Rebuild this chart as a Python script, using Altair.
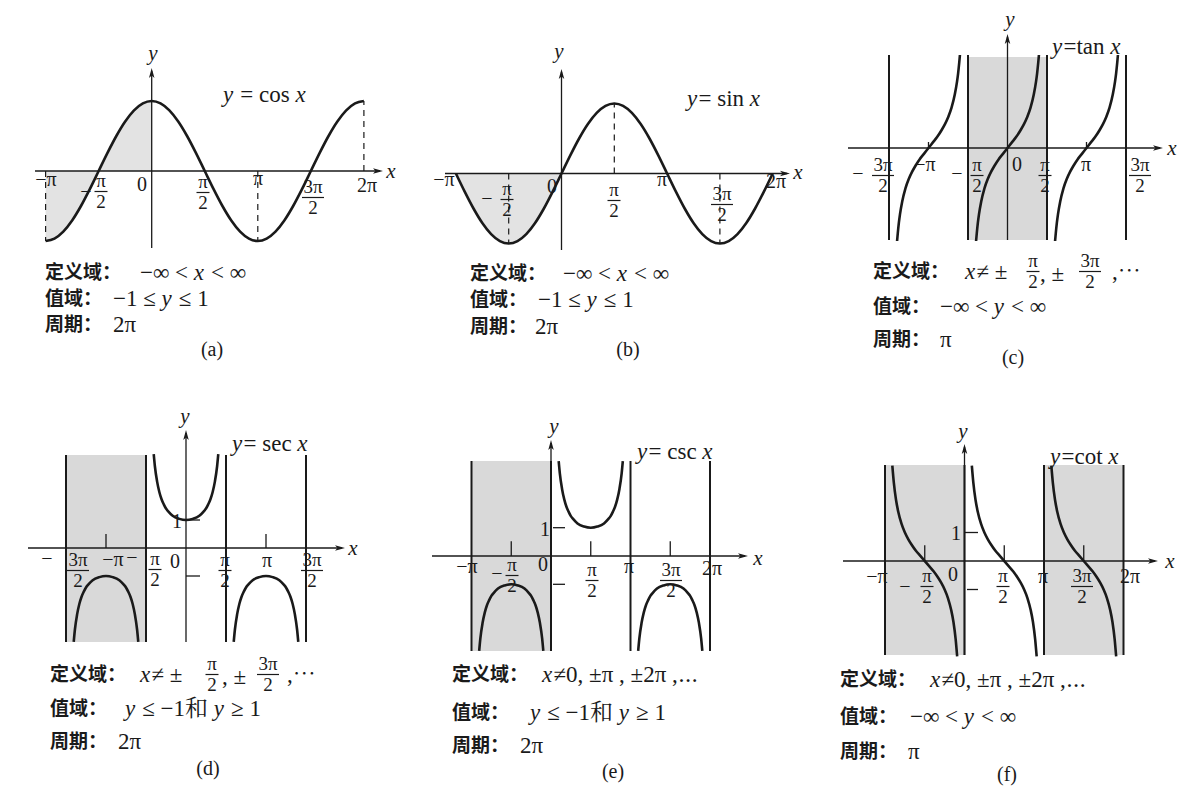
import altair as alt
import pandas as pd

# ---------------- values ----------------
# x positions in degrees (180 = pi), y in function units
WAVE_DEG = [-180, -165, -150, -135, -120, -105, -90, -75, -60, -45, -30, -15, 0,
            15, 30, 45, 60, 75, 90, 105, 120, 135, 150, 165, 180,
            195, 210, 225, 240, 255, 270, 285, 300, 315, 330, 345, 360]
COS_Y = [-1, -0.966, -0.866, -0.707, -0.5, -0.259, 0, 0.259, 0.5, 0.707, 0.866, 0.966, 1,
         0.966, 0.866, 0.707, 0.5, 0.259, 0, -0.259, -0.5, -0.707, -0.866, -0.966, -1,
         -0.966, -0.866, -0.707, -0.5, -0.259, 0, 0.259, 0.5, 0.707, 0.866, 0.966, 1]
SIN_Y = [0, -0.259, -0.5, -0.707, -0.866, -0.966, -1, -0.966, -0.866, -0.707, -0.5, -0.259, 0,
         0.259, 0.5, 0.707, 0.866, 0.966, 1, 0.966, 0.866, 0.707, 0.5, 0.259, 0,
         -0.259, -0.5, -0.707, -0.866, -0.966, -1, -0.966, -0.866, -0.707, -0.5, -0.259, 0]

# one branch of tan x (offset from branch centre, degrees)
TAN_OFF = [-71.6, -70, -67.5, -65, -60, -52.5, -45, -37.5, -30, -20, -10, 0,
           10, 20, 30, 37.5, 45, 52.5, 60, 65, 67.5, 70, 71.6]
TAN_Y = [-3.0, -2.75, -2.41, -2.14, -1.73, -1.30, -1.0, -0.77, -0.58, -0.36, -0.18, 0,
         0.18, 0.36, 0.58, 0.77, 1.0, 1.30, 1.73, 2.14, 2.41, 2.75, 3.0]
TAN_CENTERS = [-180, 0, 180]

# one U-shaped branch of sec / csc
SEC_OFF = [-72.6, -70, -65, -60, -55, -50, -45, -40, -30, -15, 0,
           15, 30, 40, 45, 50, 55, 60, 65, 70, 72.6]
SEC_UP = [3.35, 2.92, 2.37, 2.0, 1.74, 1.56, 1.41, 1.31, 1.15, 1.04, 1,
          1.04, 1.15, 1.31, 1.41, 1.56, 1.74, 2.0, 2.37, 2.92, 3.35]
SEC_DOWN = [-3.35, -2.92, -2.37, -2.0, -1.74, -1.56, -1.41, -1.31, -1.15, -1.04, -1,
            -1.04, -1.15, -1.31, -1.41, -1.56, -1.74, -2.0, -2.37, -2.92, -3.35]
SEC_UP_CENTERS, SEC_DOWN_CENTERS = [0], [-180, 180]
CSC_UP_CENTERS, CSC_DOWN_CENTERS = [90], [-90, 270]

# one branch of cot x
COT_OFF = [-73.4, -70, -65, -60, -52.5, -45, -37.5, -30, -20, -10, 0,
           10, 20, 30, 37.5, 45, 52.5, 60, 65, 70, 73.4]
COT_Y = [3.35, 2.75, 2.14, 1.73, 1.30, 1.0, 0.77, 0.58, 0.36, 0.18, 0,
         -0.18, -0.36, -0.58, -0.77, -1.0, -1.30, -1.73, -2.14, -2.75, -3.35]
COT_CENTERS = [-90, 90, 270]

# ---------------- styling ----------------
SERIF = "Liberation Serif, 'Noto Serif CJK SC', 'Noto Sans CJK SC', serif"
CJK = "'Noto Sans CJK SC', sans-serif"
INK = "#1a1a1a"
SHADE = "#d9d9d9"
SHADE_LIGHT = "#e3e3e3"
ARROW_R = "M-1,-0.55L1,0L-1,0.55L-0.5,0Z"
ARROW_U = "M-0.55,1L0,-1L0.55,1L0,0.5Z"
MSIZE = 23

STYLES = {
    "cjk": dict(font=CJK, fontSize=19, fontWeight="bold", align="left"),
    "m": dict(font=SERIF, fontSize=MSIZE, align="left"),
    "mi": dict(font=SERIF, fontSize=MSIZE, fontStyle="italic", align="left"),
    "t": dict(font=SERIF, fontSize=20, align="center"),
    "f": dict(font=SERIF, fontSize=19, align="center"),
    "ti": dict(font=SERIF, fontSize=21, fontStyle="italic", align="center"),
    "lab": dict(font=SERIF, fontSize=20, align="center"),
}
TW = {'−': .564, '∞': .713, '<': .564, '>': .564, '≤': .549, '≥': .549, '≠': .549,
      '±': .564, 'π': .55, ',': .25, '⋯': 1.0, '和': 1.0, ' ': .25, '=': .564,
      'a': .444, 'c': .444, 'e': .444, 'i': .278, 'n': .5, 'o': .5, 's': .389,
      't': .278, 'x': .5, 'y': .5}


def twidth(s, size=MSIZE):
    return sum(TW.get(ch, .5) for ch in s) * size


class Panel:
    def __init__(self, left, top, right, bottom, ox, oy, ppi, ppu):
        self.left, self.top, self.right, self.bottom = left, top, right, bottom
        self.ox, self.oy, self.ppi, self.ppu = ox, oy, ppi, ppu
        self.segs, self.dashes, self.arrows = [], [], []
        self.rects, self.texts, self.curves, self.areas = [], [], [], []

    def X(self, px):
        return (px - self.ox) / self.ppi * 180

    def Y(self, py):
        return (self.oy - py) / self.ppu

    def seg(self, x1, y1, x2, y2, w=1.3):
        self.segs.append(dict(x=x1, x2=x2, y=y1, y2=y2, w=w))

    def axes(self, xl, xt, yb, yt):
        self.seg(self.X(xl), 0, self.X(xt - 3), 0, 1.3)
        self.seg(0, self.Y(yb), 0, self.Y(yt + 3), 1.3)
        self.arrows.append(dict(x=self.X(xt - 5), y=0, shape=ARROW_R))
        self.arrows.append(dict(x=0, y=self.Y(yt + 5), shape=ARROW_U))

    def asym(self, deg, ytop, ybot):
        self.seg(deg, self.Y(ybot), deg, self.Y(ytop), 2.0)

    def rect(self, x1, x2, ytop, ybot, c=SHADE):
        self.rects.append(dict(x=x1, x2=x2, y=self.Y(ybot), y2=self.Y(ytop), c=c))

    def text(self, px, py, t, style):
        self.texts.append(dict(x=self.X(px), y=self.Y(py), text=t, style=style))

    def rich(self, px, py, segs):
        cur = px
        for t, it in segs:
            lead = len(t) - len(t.lstrip(' '))
            core = t.strip(' ')
            if core:
                self.text(cur + twidth(t[:lead]), py, core, "mi" if it else "m")
            cur += twidth(t)

    def frac(self, cx, ny, num, den):
        self.text(cx, ny, num, "f")
        self.text(cx, ny + 21, den, "f")
        hw = 6.5 if len(num) == 1 else 11
        self.seg(self.X(cx - hw), self.Y(ny + 10.5), self.X(cx + hw), self.Y(ny + 10.5), 1.2)

    def branches(self, offs, ys, centers, tag):
        for c in centers:
            for o, v in zip(offs, ys):
                self.curves.append(dict(x=c + o, y=v, b=f"{tag}{c}"))

    def chart(self):
        xs = alt.Scale(domain=[self.X(self.left), self.X(self.right)], nice=False, zero=False)
        ys = alt.Scale(domain=[self.Y(self.bottom), self.Y(self.top)], nice=False, zero=False)
        X = alt.X("x:Q", scale=xs, axis=None)
        Y = alt.Y("y:Q", scale=ys, axis=None)
        layers = []
        if self.rects:
            layers.append(alt.Chart(pd.DataFrame(self.rects)).mark_rect(strokeWidth=0).encode(
                x=X, x2="x2:Q", y=Y, y2="y2:Q", color=alt.Color("c:N", scale=None)))
        if self.areas:
            layers.append(alt.Chart(pd.DataFrame(self.areas)).mark_area(
                interpolate="monotone", color=SHADE_LIGHT, opacity=1).encode(x=X, y=Y, y2="z:Q"))
        if self.dashes:
            layers.append(alt.Chart(pd.DataFrame(self.dashes)).mark_rule(
                strokeDash=[6, 5], strokeWidth=1.2, color=INK).encode(x=X, y=Y, y2="y2:Q"))
        layers.append(alt.Chart(pd.DataFrame(self.segs)).mark_rule(color=INK).encode(
            x=X, x2="x2:Q", y=Y, y2="y2:Q", size=alt.Size("w:Q", scale=None)))
        layers.append(alt.Chart(pd.DataFrame(self.arrows)).mark_point(
            filled=True, size=100, color=INK, opacity=1, strokeWidth=0).encode(
            x=X, y=Y, shape=alt.Shape("shape:N", scale=None)))
        layers.append(alt.Chart(pd.DataFrame(self.curves)).mark_line(
            interpolate="monotone", strokeWidth=2.6, color=INK).encode(x=X, y=Y, detail="b:N"))
        tdf = pd.DataFrame(self.texts)
        for st, kw in STYLES.items():
            sub = tdf[tdf["style"] == st]
            if len(sub):
                layers.append(alt.Chart(sub).mark_text(baseline="middle", color=INK, **kw).encode(
                    x=X, y=Y, text="text:N"))
        return alt.layer(*layers).properties(width=self.right - self.left,
                                             height=self.bottom - self.top)


DOM_ALL = [("−∞ < ", 0), ("x", 1), (" < ∞", 0)]
RNG_11 = [("−1 ≤ ", 0), ("y", 1), (" ≤ 1", 0)]
RNG_INF = [("−∞ < ", 0), ("y", 1), (" < ∞", 0)]
RNG_SEC = [("y", 1), (" ≤ −1和 ", 0), ("y", 1), (" ≥ 1", 0)]
DOM_CSC = [("x", 1), ("≠0, ±π , ±2π ,⋯", 0)]

# ---------------- (a) y = cos x ----------------
pa = Panel(8, 8, 405, 384, ox=151.7, oy=169, ppi=106.1, ppu=70)
for d, v in zip(WAVE_DEG, COS_Y):
    pa.curves.append(dict(x=d, y=v, b="c"))
    if d <= 0:
        pa.areas.append(dict(x=d, y=v, z=0))
for d, v in [(-180, -1), (180, -1), (360, 1)]:
    pa.dashes.append(dict(x=d, y=0, y2=v))
pa.axes(35, 383, 246, 66)
pa.text(153, 52, "y", "ti"); pa.text(391, 170, "x", "ti")
pa.rich(223, 93, [("y", 1), (" = cos ", 0), ("x", 1)])
pa.text(46, 178, "−π", "t"); pa.text(86, 190, "−", "t"); pa.frac(101, 179, "π", "2")
pa.text(142, 183, "0", "t"); pa.frac(203, 180, "π", "2"); pa.text(258, 177, "π", "t")
pa.frac(313, 185, "3π", "2"); pa.text(367, 184, "2π", "t")
pa.text(45, 271, "定义域：", "cjk"); pa.rich(140, 271, DOM_ALL)
pa.text(45, 297, "值域：", "cjk"); pa.rich(113, 297, RNG_11)
pa.text(45, 323, "周期：", "cjk"); pa.rich(113, 323, [("2π", 0)])
pa.text(212, 348, "(a)", "lab")

# ---------------- (b) y = sin x ----------------
pb = Panel(405, 8, 820, 384, ox=561.5, oy=171.5, ppi=105.6, ppu=70)
for d, v in zip(WAVE_DEG, SIN_Y):
    pb.curves.append(dict(x=d, y=v, b="s"))
    if d <= 0:
        pb.areas.append(dict(x=d, y=v, z=0))
for d, v in [(90, 1), (-90, -1), (270, -1)]:
    pb.dashes.append(dict(x=d, y=0, y2=v))
pb.axes(445, 790, 248, 67)
pb.text(559, 50, "y", "ti"); pb.text(798, 171, "x", "ti")
pb.rich(687, 97, [("y", 1), ("= sin ", 0), ("x", 1)])
pb.text(444, 178, "−π", "t"); pb.text(487, 197, "−", "t"); pb.frac(507, 187, "π", "2")
pb.text(552, 185, "0", "t"); pb.frac(614, 188, "π", "2"); pb.text(662, 178, "π", "t")
pb.frac(722, 192, "3π", "2"); pb.text(776, 180, "2π", "t")
pb.text(470, 272, "定义域：", "cjk"); pb.rich(563, 272, DOM_ALL)
pb.text(470, 298, "值域：", "cjk"); pb.rich(538, 298, RNG_11)
pb.text(470, 325, "周期：", "cjk"); pb.rich(535, 325, [("2π", 0)])
pb.text(628, 348, "(b)", "lab")

# ---------------- (c) y = tan x ----------------
pc = Panel(820, 8, 1178, 384, ox=1007.5, oy=146, ppi=79, ppu=31)
pc.rect(-90, 90, 55, 238)
for d in [-270, -90, 90, 270]:
    pc.asym(d, 53, 238)
for d in [-180, 180]:
    pc.seg(d, 0, d, pc.Y(140))
pc.branches(TAN_OFF, TAN_Y, TAN_CENTERS, "t")
pc.axes(848, 1163, 238, 32)
pc.text(1010, 18, "y", "ti"); pc.text(1172, 147, "x", "ti")
pc.rich(1052, 45, [("y", 1), ("=tan ", 0), ("x", 1)])
pc.text(858, 172, "−", "t"); pc.frac(883, 163, "3π", "2"); pc.text(925, 163, "−π", "t")
pc.text(957, 172, "−", "t"); pc.frac(977, 163, "π", "2"); pc.text(1017, 163, "0", "t")
pc.frac(1045, 163, "π", "2"); pc.text(1086, 163, "π", "t"); pc.frac(1140, 163, "3π", "2")
pc.text(873, 270, "定义域：", "cjk"); pc.rich(965, 270, [("x", 1), ("≠ ±", 0)])
pc.frac(1033, 259, "π", "2"); pc.rich(1040, 272, [(", ±", 0)])
pc.frac(1090, 259, "3π", "2"); pc.rich(1112, 270, [(",⋯", 0)])
pc.text(873, 305, "值域：", "cjk"); pc.rich(940, 305, RNG_INF)
pc.text(873, 338, "周期：", "cjk"); pc.rich(940, 338, [("π", 0)])
pc.text(1013, 356, "(c)", "lab")

# ---------------- (d) y = sec x ----------------
pdd = Panel(8, 384, 415, 796, ox=186, oy=546, ppi=80, ppu=28)
pdd.rect(-270, -90, 453, 640)
for d in [-270, -90, 90, 270]:
    pdd.asym(d, 453, 640)
for d in [-180, 180]:
    pdd.seg(d, 0, d, 0.5)
pdd.seg(0, 1, pdd.X(200), 1); pdd.seg(0, -1, pdd.X(200), -1)
pdd.branches(SEC_OFF, SEC_UP, SEC_UP_CENTERS, "u")
pdd.branches(SEC_OFF, SEC_DOWN, SEC_DOWN_CENTERS, "d")
pdd.axes(28, 345, 640, 428)
pdd.text(185, 415, "y", "ti"); pdd.text(353, 547, "x", "ti")
pdd.rich(232, 442, [("y", 1), ("= sec ", 0), ("x", 1)])
pdd.text(177, 520, "1", "t")
pdd.text(47, 557, "−", "t"); pdd.frac(78, 558, "3π", "2"); pdd.text(113, 558, "−π", "t")
pdd.text(132, 556, "−", "t"); pdd.frac(155, 557, "π", "2"); pdd.text(175, 560, "0", "t")
pdd.frac(225, 558, "π", "2"); pdd.text(267, 559, "π", "t"); pdd.frac(312, 558, "3π", "2")
pdd.text(50, 673, "定义域：", "cjk"); pdd.rich(140, 673, [("x", 1), ("≠ ±", 0)])
pdd.frac(212, 662, "π", "2"); pdd.rich(222, 675, [(", ±", 0)])
pdd.frac(268, 662, "3π", "2"); pdd.rich(287, 673, [(",⋯", 0)])
pdd.text(50, 707, "值域：", "cjk"); pdd.rich(125, 707, RNG_SEC)
pdd.text(50, 740, "周期：", "cjk"); pdd.rich(118, 740, [("2π", 0)])
pdd.text(208, 767, "(d)", "lab")

# ---------------- (e) y = csc x ----------------
pe = Panel(415, 384, 815, 796, ox=551, oy=554, ppi=79.5, ppu=28.3)
pe.rect(-180, 0, 459, 649)
for d in [-180, 0, 180, 360]:
    pe.asym(d, 459, 649)
for d in [-90, 90, 270]:
    pe.seg(d, 0, d, 0.52)
pe.seg(pe.X(553), 1, pe.X(565), 1); pe.seg(pe.X(553), -1, pe.X(565), -1)
pe.branches(SEC_OFF, SEC_UP, CSC_UP_CENTERS, "u")
pe.branches(SEC_OFF, SEC_DOWN, CSC_DOWN_CENTERS, "d")
pe.axes(432, 748, 649, 438)
pe.text(554, 425, "y", "ti"); pe.text(758, 557, "x", "ti")
pe.rich(637, 450, [("y", 1), ("= csc ", 0), ("x", 1)])
pe.text(545, 528, "1", "t")
pe.text(467, 565, "−π", "t"); pe.text(497, 572, "−", "t"); pe.frac(512, 563, "π", "2")
pe.text(543, 563, "0", "t"); pe.frac(592, 568, "π", "2"); pe.text(629, 565, "π", "t")
pe.frac(671, 568, "3π", "2"); pe.text(712, 567, "2π", "t")
pe.text(452, 673, "定义域：", "cjk"); pe.rich(542, 673, DOM_CSC)
pe.text(452, 711, "值域：", "cjk"); pe.rich(530, 711, RNG_SEC)
pe.text(452, 744, "周期：", "cjk"); pe.rich(520, 744, [("2π", 0)])
pe.text(613, 770, "(e)", "lab")

# ---------------- (f) y = cot x ----------------
pf = Panel(815, 384, 1178, 796, ox=964.5, oy=559, ppi=79.5, ppu=28.5)
pf.rect(-180, 0, 463, 653); pf.rect(180, 360, 463, 653)
for d in [-180, 0, 180, 360]:
    pf.asym(d, 463, 653)
for d in [-90, 90, 270]:
    pf.seg(d, 0, d, 0.55)
pf.seg(0, 1, pf.X(978), 1); pf.seg(pf.X(967), -1, pf.X(978), -1)
pf.branches(COT_OFF, COT_Y, COT_CENTERS, "k")
pf.axes(843, 1158, 653, 442)
pf.text(963, 430, "y", "ti"); pf.text(1170, 560, "x", "ti")
pf.rich(1050, 455, [("y", 1), ("=cot ", 0), ("x", 1)])
pf.text(956, 532, "1", "t")
pf.text(877, 575, "−π", "t"); pf.text(905, 585, "−", "t"); pf.frac(927, 574, "π", "2")
pf.text(953, 573, "0", "t"); pf.frac(1003, 574, "π", "2"); pf.text(1043, 575, "π", "t")
pf.frac(1082, 574, "3π", "2"); pf.text(1130, 575, "2π", "t")
pf.text(840, 678, "定义域：", "cjk"); pf.rich(930, 678, DOM_CSC)
pf.text(840, 715, "值域：", "cjk"); pf.rich(910, 715, RNG_INF)
pf.text(840, 750, "周期：", "cjk"); pf.rich(908, 750, [("π", 0)])
pf.text(1007, 773, "(f)", "lab")

row1 = alt.hconcat(pa.chart(), pb.chart(), pc.chart(), spacing=0, bounds="flush")
row2 = alt.hconcat(pdd.chart(), pe.chart(), pf.chart(), spacing=0, bounds="flush")
chart = alt.vconcat(row1, row2, spacing=0).properties(
    padding=0, background="white").configure_view(stroke=None)

chart.save("out.html", embed_options={"renderer": "svg", "actions": False})
